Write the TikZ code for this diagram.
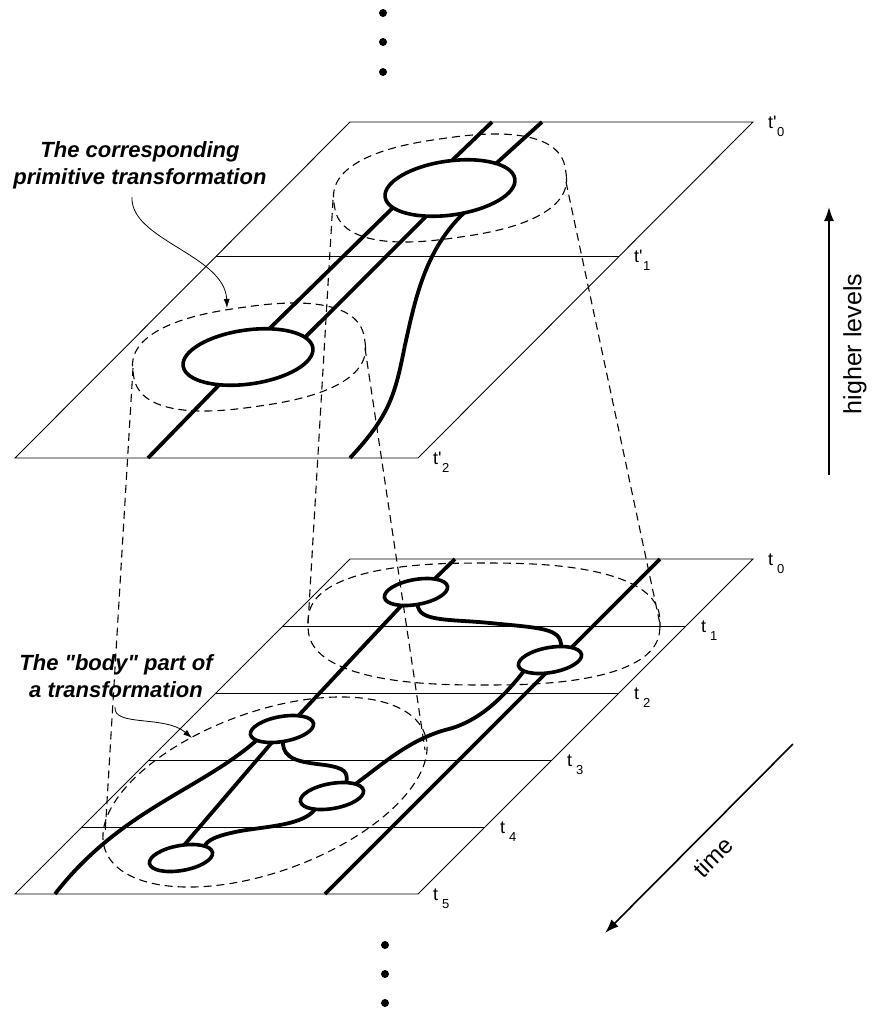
\documentclass[tikz,border=0pt]{standalone}
\usepackage{fontspec}
\setmainfont{Liberation Sans}
\newfontfamily\lsans{Liberation Sans}
\usetikzlibrary{arrows.meta,shapes.geometric}
\pgfdeclarelayer{back}
\pgfdeclarelayer{front}
\pgfsetlayers{back,main,front}
\newcommand\subfs{\fontsize{13}{13}\selectfont}
\newcommand\tlab[1]{t\hspace{4pt}\raisebox{-8pt}{\subfs #1}}
\newcommand\tplab[1]{t'\hspace{0.5pt}\raisebox{-8pt}{\subfs #1}}
\newcommand\superell[6]{%
  \draw[#1, shift={(#2,#3)}, rotate=#6] plot[domain=1.5:361.5, samples=121]
    ({#4*sign(cos(\x))*abs(cos(\x))^0.8},{#5*sign(sin(\x))*abs(sin(\x))^0.8}) -- cycle;}
\begin{document}
\begin{tikzpicture}[x=1pt,y=-1pt,
  planeline/.style={line width=0.9pt},
  strand/.style={line width=3.8pt},
  blob/.style={ellipse, draw, line width=3.6pt, fill=white, inner sep=0pt, outer sep=0pt},
  bigblob/.style={blob, minimum width=131pt, minimum height=54pt, rotate=8},
  smallblob/.style={blob, minimum width=64pt, minimum height=25pt, rotate=10},
  dashline/.style={line width=1.1pt, dash pattern=on 8pt off 5pt},
  tl/.style={anchor=base west, font=\lsans\fontsize{18}{18}\selectfont, inner sep=0pt},
  note/.style={font=\lsans\fontsize{22}{22}\selectfont\bfseries\itshape, anchor=base, inner sep=0pt},
  bigarrow/.style={line width=1.6pt, -{Latex[length=14pt,width=10pt]}},
  notearrow/.style={line width=0.8pt, -{Latex[length=9pt,width=6pt]}},
  dotnode/.style={circle, fill, inner sep=0pt, minimum size=8pt}]
\useasboundingbox (0,0) rectangle (871,1013);

% ---------- ellipses (transformations) ----------
\node[bigblob] (U) at (450,188) {};
\node[bigblob] (L) at (248,357) {};
\node[smallblob] (E1) at (416,592) {};
\node[smallblob] (E2) at (550,660) {};
\node[smallblob] (E3) at (282,729) {};
\node[smallblob] (E4) at (332,796) {};
\node[smallblob] (E5) at (181,858) {};

\begin{pgfonlayer}{back}
% ---------- planes ----------
\coordinate (A1) at (350,122); \coordinate (B1) at (753,122);
\coordinate (C1) at (418,458); \coordinate (D1) at (15,458);
\draw[planeline] (A1) -- (B1) -- (C1) -- (D1) -- cycle;
\coordinate (M1l) at (216,256); \coordinate (M1r) at (619,256);
\draw[planeline] (M1l) -- (M1r);

\coordinate (A2) at (350,559); \coordinate (B2) at (753,559);
\coordinate (C2) at (418,894); \coordinate (D2) at (15,894);
\draw[planeline] (A2) -- (B2) -- (C2) -- (D2) -- cycle;
\coordinate (L1l) at (283,626); \coordinate (L1r) at (686,626);
\coordinate (L2l) at (216,693); \coordinate (L2r) at (619,693);
\coordinate (L3l) at (149,760); \coordinate (L3r) at (552,760);
\coordinate (L4l) at (82,827);  \coordinate (L4r) at (485,827);
\draw[planeline] (L1l) -- (L1r);
\draw[planeline] (L2l) -- (L2r);
\draw[planeline] (L3l) -- (L3r);
\draw[planeline] (L4l) -- (L4r);

% ---------- strands, upper level ----------
\coordinate (sa0) at (492,122); \coordinate (sb0) at (542,122);
\coordinate (sa3) at (148,458); \coordinate (sc3) at (350,458);
\draw[strand] (sa0) -- (U.78);
\draw[strand] (sb0) -- (U.20);
\draw[strand] (U.191) -- (L.45);
\draw[strand] (U.222) -- (L.11);
\draw[strand] (L.216) -- (sa3);
\draw[strand] (U.291) .. controls (425,250) and (415,300) .. (405,345)
  .. controls (395,395) and (390,415) .. (sc3);

% ---------- strands, lower level ----------
\coordinate (sd0) at (660,559); \coordinate (sd1) at (325,894);
\coordinate (se0) at (455,559); \coordinate (sf1) at (55,894);
\draw[strand] (sd0) -- (sd1);
\draw[strand] (se0) -- (E1.25);
\draw[strand] (E1.213) -- (E3.29);
\draw[strand] (E1.268) .. controls (418,622) and (450,619) .. (490,623)
  .. controls (540,628) and (562,628) .. (E2.41);
\draw[strand] (E2.193) .. controls (505,695) and (480,722) .. (445,730)
  .. controls (410,740) and (385,762) .. (E4.17);
\draw[strand] (E3.194) .. controls (200,790) and (120,810) .. (sf1);
\draw[strand] (E3.223) -- (E5.66);
\draw[strand] (E3.264) .. controls (283,760) and (300,762) .. (325,765)
  .. controls (345,768) and (348,772) .. (E4.33);
\draw[strand] (E4.208) .. controls (303,825) and (270,826) .. (240,831)
  .. controls (215,836) and (208,840) .. (E5.17);
\end{pgfonlayer}

\begin{pgfonlayer}{front}
% ---------- dashed correspondences ----------
\superell{dashline}{450}{188}{117}{50}{8}
\superell{dashline}{249}{357}{117}{50}{8}
\superell{dashline}{484}{624}{176}{61}{0}
\draw[dashline, rotate around={20:(265,792)}] (265,792) ellipse [x radius=170, y radius=80];
\coordinate (ka1) at (333,200); \coordinate (ka2) at (308,624);
\coordinate (kb1) at (566,182); \coordinate (kb2) at (660,624);
\coordinate (kc1) at (133,368); \coordinate (kc2) at (105,835);
\coordinate (kd1) at (365,348); \coordinate (kd2) at (425,750);
\draw[dashline] (ka1) -- (ka2);
\draw[dashline] (kb1) -- (kb2);
\draw[dashline] (kc1) -- (kc2);
\draw[dashline] (kd1) -- (kd2);
\end{pgfonlayer}

% ---------- time labels ----------
\node[tl] (tp0) at (768,128) {\tplab{0}};
\node[tl] (tp1) at (634,262) {\tplab{1}};
\node[tl] (tp2) at (433,464) {\tplab{2}};
\node[tl] (t0) at (768,565) {\tlab{0}};
\node[tl] (t1) at (701,632) {\tlab{1}};
\node[tl] (t2) at (634,699) {\tlab{2}};
\node[tl] (t3) at (567,766) {\tlab{3}};
\node[tl] (t4) at (500,833) {\tlab{4}};
\node[tl] (t5) at (433,900) {\tlab{5}};

% ---------- annotations ----------
\node[note] (n1a) at (140,157) {The corresponding};
\node[note] (n1b) at (140,184) {primitive transformation};
\coordinate (ar1s) at (132,197); \coordinate (ar1e) at (227,308);
\draw[notearrow] (ar1s) .. controls (130,240) and (225,255) .. (ar1e);

\node[note] (n2a) at (116,670) {The "body" part of};
\node[note] (n2b) at (116,697) {a transformation};
\coordinate (ar2s) at (115,707); \coordinate (ar2e) at (192,738);
\draw[notearrow] (ar2s) .. controls (113,727) and (165,715) .. (ar2e);

% ---------- axes ----------
\coordinate (hl0) at (829,475); \coordinate (hl1) at (829,207);
\draw[bigarrow] (hl0) -- (hl1);
\node[rotate=90, font=\lsans\fontsize{25}{25}\selectfont] (hltxt) at (855,344) {higher levels};
\coordinate (tm0) at (793,744); \coordinate (tm1) at (605,933);
\draw[bigarrow] (tm0) -- (tm1);
\node[rotate=45, font=\lsans\fontsize{24}{24}\selectfont] (tmtxt) at (713,857) {time};

% ---------- continuation dots ----------
\node[dotnode] (dA) at (383,13) {};
\node[dotnode] (dB) at (383,42) {};
\node[dotnode] (dC) at (383,72) {};
\node[dotnode] (dD) at (385,945) {};
\node[dotnode] (dE) at (385,974) {};
\node[dotnode] (dF) at (385,1003) {};
\end{tikzpicture}
\end{document}
